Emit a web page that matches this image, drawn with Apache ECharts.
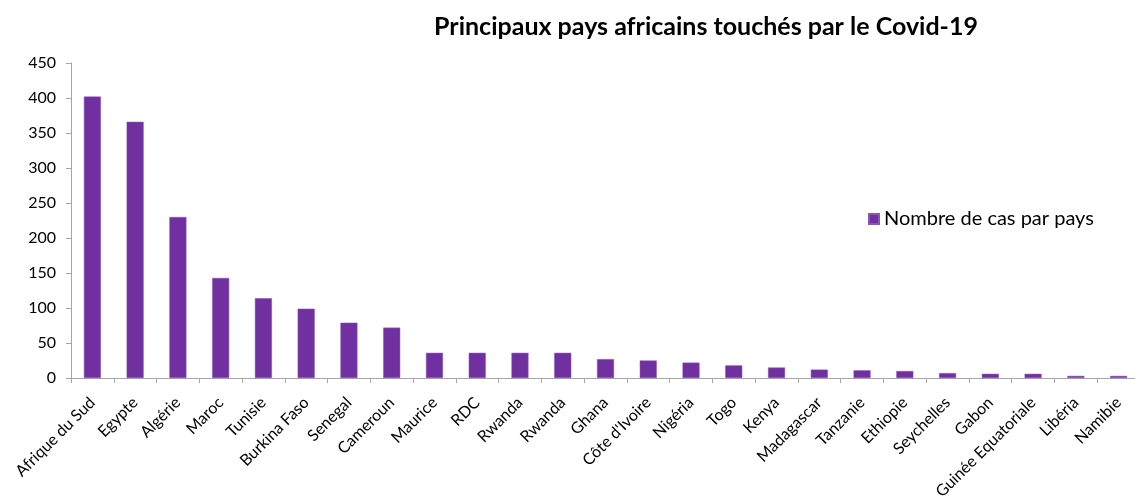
<!DOCTYPE html>
<html>
<head>
<meta charset="utf-8">
<script src="https://cdn.jsdelivr.net/npm/echarts@6/dist/echarts.min.js"></script>
<style>
html,body{margin:0;padding:0;background:#fff;}
#chart{width:1135px;height:499px;}
</style>
</head>
<body>
<div id="chart"></div>
<script>
const title = "Principaux pays africains touchés par le Covid-19";
const seriesName = "Nombre de cas par pays";
const categories = ["Afrique du Sud","Egypte","Algérie","Maroc","Tunisie","Burkina Faso","Senegal","Cameroun","Maurice","RDC","Rwanda","Rwanda","Ghana","Côte d'Ivoire","Nigéria","Togo","Kenya","Madagascar","Tanzanie","Ethiopie","Seychelles","Gabon","Guinée Equatoriale","Libéria","Namibie"];
const values = [402,366,230,143,114,99,79,72,36,36,36,36,27,25,22,18,15,12,11,10,7,6,6,3,3];
const yTicks = {min:0, max:450, interval:50};

const font = "Lato, 'Open Sans', sans-serif";
const chart = echarts.init(document.getElementById('chart'), null, {renderer:'canvas'});
chart.setOption({
  animation:false,
  backgroundColor:'#fff',
  title:{
    text:title, left:701, top:9, textAlign:'center',
    textStyle:{fontFamily:font, fontWeight:'bold', fontSize:25, color:'#000'}
  },
  legend:{
    data:[seriesName], left:863, top:204, icon:'rect', itemWidth:10, itemHeight:10, itemGap:5,
    textStyle:{fontFamily:font, fontSize:20, color:'#000'}
  },
  grid:{left:71, right:-5, top:63, bottom:121, containLabel:false, outerBoundsMode:'none'},
  xAxis:{
    type:'category', data:categories,
    axisLine:{lineStyle:{color:'#A6A6A6', width:1}},
    axisTick:{show:true, length:5, lineStyle:{color:'#A6A6A6'}},
    axisLabel:{interval:0, rotate:45, fontFamily:font, fontSize:16, color:'#000', margin:22}
  },
  yAxis:{
    type:'value', min:yTicks.min, max:yTicks.max, interval:yTicks.interval,
    axisLine:{show:true, lineStyle:{color:'#A6A6A6', width:1}},
    axisTick:{show:true, length:5, lineStyle:{color:'#A6A6A6'}},
    splitLine:{show:false},
    axisLabel:{fontFamily:font, fontSize:16, color:'#000', margin:15}
  },
  series:[{
    name:seriesName, type:'bar', data:values, barWidth:17,
    itemStyle:{color:'#7030A0', borderColor:'#8a55b5', borderWidth:0.5}
  }]
});
</script>
</body>
</html>
